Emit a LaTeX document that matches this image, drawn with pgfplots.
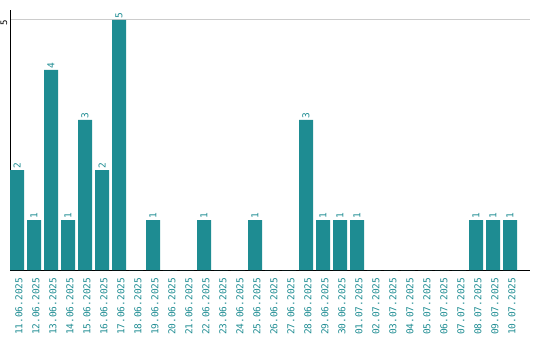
\documentclass[border=0pt]{standalone}
\usepackage{fontspec}
\setmonofont{DejaVu Sans Mono}
\usepackage{pgfplots}
\pgfplotsset{compat=1.18}
\definecolor{barteal}{HTML}{1E8C92}

\begin{document}
\begin{tikzpicture}
  \begin{axis}[
    scale only axis,
    width=520pt, height=260pt,
    ybar, bar width=14pt, bar shift=0pt,
    xmin=-0.4118, xmax=30.176,
    ymin=0, ymax=5.2,
    axis x line*=bottom, axis y line*=left,
    axis line style={-, black, line width=1pt},
    xtick=data,
    xticklabels={11.06.2025,12.06.2025,13.06.2025,14.06.2025,15.06.2025,16.06.2025,17.06.2025,18.06.2025,19.06.2025,20.06.2025,21.06.2025,22.06.2025,23.06.2025,24.06.2025,25.06.2025,26.06.2025,27.06.2025,28.06.2025,29.06.2025,30.06.2025,01.07.2025,02.07.2025,03.07.2025,04.07.2025,05.07.2025,06.07.2025,07.07.2025,08.07.2025,09.07.2025,10.07.2025},
    x tick label style={rotate=90, anchor=east, font=\ttfamily\fontsize{9.5}{10}\selectfont, text=barteal, yshift=-2pt},
    x tick style={draw=none},
    ytick={5},
    y tick label style={rotate=90, anchor=south, inner sep=2.5pt, xshift=-3pt, font=\ttfamily\fontsize{9}{10}\selectfont, text=black},
    y tick style={draw=none},
    ymajorgrids,
    grid style={line width=1pt, draw=black!20},
    /pgf/number format/assume math mode=true,
  ]
    % Balken
    \addplot[fill=barteal, draw=none] coordinates {
      (0,2) (1,1) (2,4) (3,1) (4,3) (5,2) (6,5) (7,0) (8,1) (9,0)
      (10,0) (11,1) (12,0) (13,0) (14,1) (15,0) (16,0) (17,3) (18,1) (19,1)
      (20,1) (21,0) (22,0) (23,0) (24,0) (25,0) (26,0) (27,1) (28,1) (29,1)
    };
    % Werte ueber den Balken (nur > 0)
    \addplot[draw=none, fill=none,
      nodes near coords,
      every node near coord/.append style={rotate=90, anchor=west, inner sep=1.5pt,
        font=\ttfamily\fontsize{9.5}{10}\selectfont, text=barteal},
    ] coordinates {
      (0,2) (1,1) (2,4) (3,1) (4,3) (5,2) (6,5) (8,1)
      (11,1) (14,1) (17,3) (18,1) (19,1) (20,1) (27,1) (28,1) (29,1)
    };
  \end{axis}
  \pgfresetboundingbox
  \path ([shift={(-10pt,-70pt)}]current axis.south west) rectangle ([shift={(10pt,10pt)}]current axis.north east);
\end{tikzpicture}
\end{document}
